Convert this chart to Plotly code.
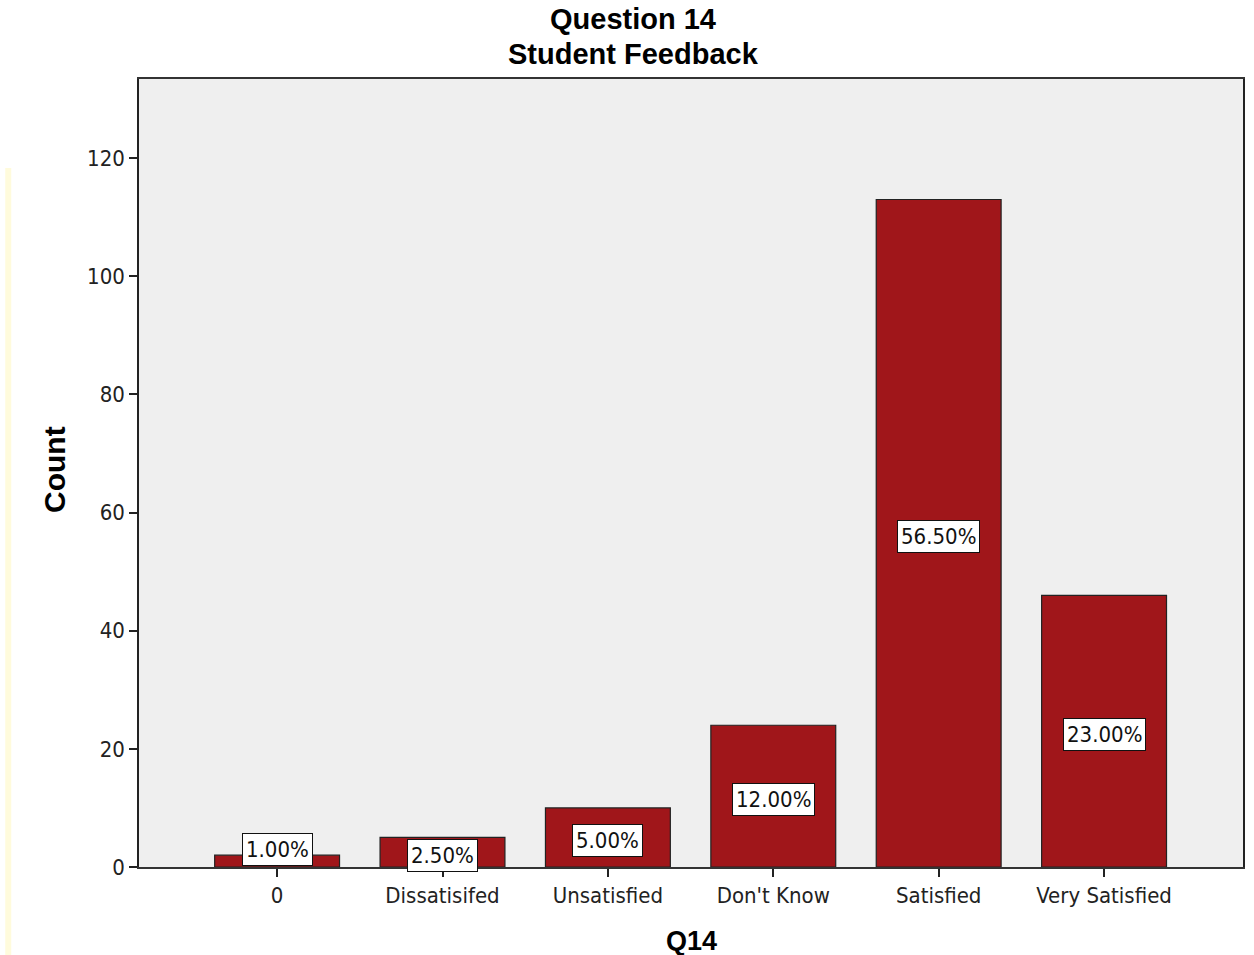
import plotly.graph_objects as go

# Responses to Q14 (n = 200)
categories = ["0", "Dissatisifed", "Unsatisfied", "Don't Know", "Satisfied", "Very Satisfied"]
counts = [2, 5, 10, 24, 113, 46]
percent_labels = ["1.00%", "2.50%", "5.00%", "12.00%", "56.50%", "23.00%"]
y_ticks = [0, 20, 40, 60, 80, 100, 120]

BAR_RED = "#a0161a"
TICK_FONT = dict(family="DejaVu Sans Condensed, DejaVu Sans, sans-serif", size=22, color="#222222")
BOLD_FONT = "Liberation Sans, Arial, sans-serif"

fig = go.Figure(
    go.Bar(
        x=categories,
        y=counts,
        width=0.755,
        marker=dict(color=BAR_RED, line=dict(color="#222222", width=1.2)),
        hoverinfo="x+y",
    )
)

# Percentage boxes centred inside each bar (lifted clear of the baseline for tiny bars)
for cat, cnt, lab in zip(categories, counts, percent_labels):
    fig.add_annotation(
        x=cat,
        y=3.4 if cnt < 4 else cnt / 2,
        yshift=-3,
        text=lab,
        showarrow=False,
        font=dict(family=TICK_FONT["family"], size=22, color="#111111"),
        bgcolor="white",
        bordercolor="#111111",
        borderwidth=1,
        borderpad=3,
    )

# Two-line chart title
fig.add_annotation(
    x=0.4476, y=1.0765, xref="paper", yref="paper",
    text="<b>Question 14</b>", showarrow=False,
    font=dict(family=BOLD_FONT, size=29, color="black"),
    xanchor="center", yanchor="middle",
)
fig.add_annotation(
    x=0.4476, y=1.0315, xref="paper", yref="paper",
    text="<b>Student Feedback</b>", showarrow=False,
    font=dict(family=BOLD_FONT, size=29, color="black"),
    xanchor="center", yanchor="middle",
)

# Axis titles
fig.add_annotation(
    x=-0.076, y=0.504, xref="paper", yref="paper",
    text="<b>Count</b>", showarrow=False, textangle=-90,
    font=dict(family=BOLD_FONT, size=30, color="black"),
    xanchor="center", yanchor="middle",
)
fig.add_annotation(
    x=0.5, y=-0.094, xref="paper", yref="paper",
    text="<b>Q14</b>", showarrow=False,
    font=dict(family=BOLD_FONT, size=27, color="black"),
    xanchor="center", yanchor="middle",
)

# Thin pale strip along the left edge of the page
fig.add_shape(
    type="rect", xref="paper", yref="paper",
    x0=(5 - 139) / 1106, x1=(11 - 139) / 1106,
    y0=-0.12, y1=(867 - 168) / 788,
    fillcolor="#fffbdc", line=dict(width=0), layer="below",
)

fig.update_layout(
    width=1254,
    height=955,
    margin=dict(l=139, r=9, t=79, b=88),
    paper_bgcolor="white",
    plot_bgcolor="#efefef",
    showlegend=False,
    bargap=0.245,
    xaxis=dict(
        type="category",
        range=[-0.835, 5.84],
        showline=True,
        linecolor="#333333",
        linewidth=1.5,
        mirror=True,
        ticks="outside",
        ticklen=8,
        tickwidth=1.5,
        tickcolor="#222222",
        tickfont=TICK_FONT,
        showgrid=False,
        zeroline=False,
    ),
    yaxis=dict(
        range=[0, 133.4],
        tickvals=y_ticks,
        showline=True,
        linecolor="#222222",
        linewidth=1.5,
        mirror=True,
        ticks="outside",
        ticklen=8,
        tickwidth=1.5,
        tickcolor="#222222",
        tickfont=TICK_FONT,
        showgrid=False,
        zeroline=False,
    ),
)

fig.write_html("out.html")
